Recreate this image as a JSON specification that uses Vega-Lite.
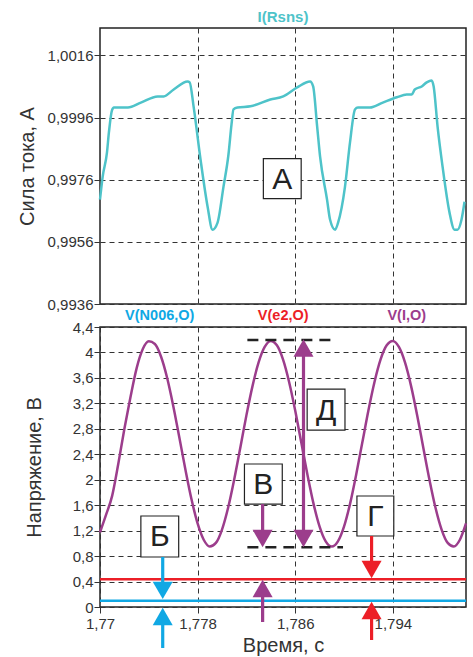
{
  "$schema": "https://vega.github.io/schema/vega-lite/v6.json",
  "padding": {"left": 16, "top": 9, "right": 5, "bottom": 5},
  "bounds": "flush",
  "spacing": 23,
  "config": {
    "font": "Liberation Sans",
    "view": {"stroke": "#222", "strokeWidth": 1.5},
    "axis": {
      "labelFont": "Liberation Sans", "labelFontSize": 15, "labelColor": "#333", "labelOverlap": false, "labelFlush": false,
      "titleFont": "Liberation Sans", "titleFontSize": 20, "titleFontWeight": "normal", "titleColor": "#333",
      "tickColor": "#333", "tickSize": 6, "gridColor": "#333", "gridDash": [5, 4], "gridOpacity": 1, "gridWidth": 1,
      "domain": false, "labelPadding": 1
    }
  },
  "datasets": {
    "current": [
      {"t": 1.77000, "i": 0.99696}, {"t": 1.77022, "i": 0.99770}, {"t": 1.77057, "i": 0.99847}, {"t": 1.77073, "i": 0.99912},
      {"t": 1.77098, "i": 0.99983}, {"t": 1.77114, "i": 0.99992}, {"t": 1.77229, "i": 0.99992}, {"t": 1.77335, "i": 1.00008},
      {"t": 1.77473, "i": 1.00028}, {"t": 1.77522, "i": 1.00028}, {"t": 1.77604, "i": 1.00050}, {"t": 1.77718, "i": 1.00076},
      {"t": 1.77735, "i": 1.00073}, {"t": 1.77767, "i": 0.99996}, {"t": 1.77824, "i": 0.99825}, {"t": 1.77882, "i": 0.99673},
      {"t": 1.77922, "i": 0.99599}, {"t": 1.77963, "i": 0.99621}, {"t": 1.78012, "i": 0.99737}, {"t": 1.78053, "i": 0.99841},
      {"t": 1.78078, "i": 0.99938}, {"t": 1.78094, "i": 0.99986}, {"t": 1.78127, "i": 0.99992}, {"t": 1.78233, "i": 0.99996},
      {"t": 1.78396, "i": 1.00018}, {"t": 1.78502, "i": 1.00028}, {"t": 1.78616, "i": 1.00057}, {"t": 1.78722, "i": 1.00076},
      {"t": 1.78747, "i": 1.00060}, {"t": 1.78780, "i": 0.99931}, {"t": 1.78804, "i": 0.99834}, {"t": 1.78861, "i": 0.99696},
      {"t": 1.78886, "i": 0.99631}, {"t": 1.78927, "i": 0.99599}, {"t": 1.78951, "i": 0.99621}, {"t": 1.79008, "i": 0.99737},
      {"t": 1.79049, "i": 0.99879}, {"t": 1.79090, "i": 0.99986}, {"t": 1.79114, "i": 0.99992}, {"t": 1.79212, "i": 0.99992},
      {"t": 1.79318, "i": 1.00008}, {"t": 1.79433, "i": 1.00025}, {"t": 1.79514, "i": 1.00034}, {"t": 1.79555, "i": 1.00034},
      {"t": 1.79580, "i": 1.00050}, {"t": 1.79637, "i": 1.00060}, {"t": 1.79678, "i": 1.00073}, {"t": 1.79718, "i": 1.00079},
      {"t": 1.79735, "i": 1.00060}, {"t": 1.79767, "i": 0.99931}, {"t": 1.79808, "i": 0.99802}, {"t": 1.79865, "i": 0.99654},
      {"t": 1.79906, "i": 0.99599}, {"t": 1.79930, "i": 0.99599}, {"t": 1.79963, "i": 0.99631}, {"t": 1.79988, "i": 0.99689}
    ],
    "voltage": [
      {"t": 1.7700, "v": 1.173}, {"t": 1.7705, "v": 1.45}, {"t": 1.7710, "v": 1.75}, {"t": 1.7715, "v": 2.25},
      {"t": 1.7720, "v": 2.80}, {"t": 1.7725, "v": 3.30}, {"t": 1.7730, "v": 3.75}, {"t": 1.7735, "v": 4.05},
      {"t": 1.7740, "v": 4.175}, {"t": 1.7745, "v": 4.133}, {"t": 1.7750, "v": 3.936}, {"t": 1.7755, "v": 3.602},
      {"t": 1.7760, "v": 3.164}, {"t": 1.7765, "v": 2.667}, {"t": 1.7770, "v": 2.161}, {"t": 1.7775, "v": 1.693},
      {"t": 1.7780, "v": 1.313}, {"t": 1.7785, "v": 1.057}, {"t": 1.7790, "v": 0.952}, {"t": 1.7795, "v": 1.007},
      {"t": 1.7800, "v": 1.216}, {"t": 1.7805, "v": 1.559}, {"t": 1.7810, "v": 2.005}, {"t": 1.7815, "v": 2.504},
      {"t": 1.7820, "v": 3.011}, {"t": 1.7825, "v": 3.471}, {"t": 1.7830, "v": 3.843}, {"t": 1.7835, "v": 4.086},
      {"t": 1.7840, "v": 4.180}, {"t": 1.7845, "v": 4.112}, {"t": 1.7850, "v": 3.891}, {"t": 1.7855, "v": 3.537},
      {"t": 1.7860, "v": 3.088}, {"t": 1.7865, "v": 2.584}, {"t": 1.7870, "v": 2.082}, {"t": 1.7875, "v": 1.625},
      {"t": 1.7880, "v": 1.263}, {"t": 1.7885, "v": 1.031}, {"t": 1.7890, "v": 0.950}, {"t": 1.7895, "v": 1.031},
      {"t": 1.7900, "v": 1.263}, {"t": 1.7905, "v": 1.625}, {"t": 1.7910, "v": 2.082}, {"t": 1.7915, "v": 2.584},
      {"t": 1.7920, "v": 3.088}, {"t": 1.7925, "v": 3.537}, {"t": 1.7930, "v": 3.891}, {"t": 1.7935, "v": 4.112},
      {"t": 1.7940, "v": 4.180}, {"t": 1.7945, "v": 4.086}, {"t": 1.7950, "v": 3.843}, {"t": 1.7955, "v": 3.471},
      {"t": 1.7960, "v": 3.011}, {"t": 1.7965, "v": 2.504}, {"t": 1.7970, "v": 2.005}, {"t": 1.7975, "v": 1.559},
      {"t": 1.7980, "v": 1.216}, {"t": 1.7985, "v": 1.007}, {"t": 1.7990, "v": 0.952}, {"t": 1.7995, "v": 1.057},
      {"t": 1.8000, "v": 1.313}
    ],
    "levels": [
      {"series": "e2", "v": 0.435},
      {"series": "N006", "v": 0.1}
    ],
    "seriesLabels": [
      {"series": "N006", "t": 1.7749, "text": "V(N006,O)"},
      {"series": "e2", "t": 1.78502, "text": "V(e2,O)"},
      {"series": "I", "t": 1.79514, "text": "V(I,O)"}
    ],
    "topBox": [
      {"t1": 1.78339, "t2": 1.78649, "i1": 0.99699, "i2": 0.99828, "tm": 1.78494, "im": 0.997635, "label": "А"}
    ],
    "boxes": [
      {"t1": 1.77335, "t2": 1.77645, "v1": 0.786, "v2": 1.43, "tm": 1.7749, "vm": 1.108, "label": "Б"},
      {"t1": 1.78184, "t2": 1.78494, "v1": 1.618, "v2": 2.247, "tm": 1.78339, "vm": 1.9325, "label": "В"},
      {"t1": 1.78698, "t2": 1.79008, "v1": 2.781, "v2": 3.425, "tm": 1.78853, "vm": 3.103, "label": "Д"},
      {"t1": 1.79106, "t2": 1.79408, "v1": 1.116, "v2": 1.744, "tm": 1.79257, "vm": 1.43, "label": "Г"}
    ],
    "dashes": [
      {"t1": 1.78208, "t2": 1.7891, "v": 4.196},
      {"t1": 1.78208, "t2": 1.78992, "v": 0.938}
    ],
    "shafts": [
      {"t": 1.77514, "v1": 0.786, "v2": 0.30, "series": "N006"},
      {"t": 1.77514, "v1": -0.644, "v2": -0.15, "series": "N006"},
      {"t": 1.78333, "v1": 1.618, "v2": 1.10, "series": "I"},
      {"t": 1.78333, "v1": -0.236, "v2": 0.27, "series": "I"},
      {"t": 1.78668, "v1": 4.05, "v2": 1.10, "series": "I"},
      {"t": 1.79226, "v1": 1.116, "v2": 0.62, "series": "e2"},
      {"t": 1.79226, "v1": -0.519, "v2": -0.06, "series": "e2"}
    ],
    "heads": [
      {"t": 1.77514, "v": 0.262, "series": "N006", "dir": "down"},
      {"t": 1.77514, "v": -0.149, "series": "N006", "dir": "up"},
      {"t": 1.78333, "v": 1.076, "series": "I", "dir": "down"},
      {"t": 1.78333, "v": 0.291, "series": "I", "dir": "up"},
      {"t": 1.78668, "v": 4.07, "series": "I", "dir": "up"},
      {"t": 1.78668, "v": 1.076, "series": "I", "dir": "down"},
      {"t": 1.79226, "v": 0.589, "series": "e2", "dir": "down"},
      {"t": 1.79226, "v": -0.055, "series": "e2", "dir": "up"}
    ]
  },
  "vconcat": [
    {
      "width": 366,
      "height": 276,
      "title": {"text": "I(Rsns)", "color": "#4ec3c9", "fontSize": 15, "fontWeight": "bold", "offset": 3, "font": "Liberation Sans"},
      "layer": [
        {
          "data": {"name": "current"},
          "mark": {"type": "line", "color": "#4ec3c9", "strokeWidth": 2.5, "interpolate": "monotone"},
          "encoding": {
            "x": {"field": "t", "type": "quantitative",
              "scale": {"domain": [1.77, 1.8], "nice": false, "zero": false},
              "axis": {"values": [1.778, 1.786, 1.794], "tickCount": 20, "labels": false, "ticks": false, "title": null, "grid": true}},
            "y": {"field": "i", "type": "quantitative",
              "scale": {"domain": [0.9936, 1.00248], "nice": false, "zero": false},
              "axis": {"values": [0.9936, 0.9956, 0.9976, 0.9996, 1.0016], "tickCount": 20, "title": "Сила тока, А", "titlePadding": 10,
                "labelFlush": false,
                "labelExpr": "replace(format(datum.value, '.4f'), '.', ',')", "grid": true}}
          }
        },
        {
          "data": {"name": "topBox"},
          "mark": {"type": "rect", "fill": "white", "stroke": "#222", "strokeWidth": 1.2},
          "encoding": {
            "x": {"field": "t1", "type": "quantitative"},
            "x2": {"field": "t2"},
            "y": {"field": "i1", "type": "quantitative"},
            "y2": {"field": "i2"}
          }
        },
        {
          "data": {"name": "topBox"},
          "mark": {"type": "text", "fontSize": 30, "color": "#222", "baseline": "middle", "align": "center", "dy": 1},
          "encoding": {
            "x": {"field": "tm", "type": "quantitative"},
            "y": {"field": "im", "type": "quantitative"},
            "text": {"field": "label"}
          }
        }
      ]
    },
    {
      "width": 366,
      "height": 280,
      "layer": [
        {
          "data": {"name": "voltage"},
          "mark": {"type": "line", "color": "#9c3d8c", "strokeWidth": 2.5, "interpolate": "monotone"},
          "encoding": {
            "x": {"field": "t", "type": "quantitative",
              "scale": {"domain": [1.77, 1.8], "nice": false, "zero": false},
              "axis": {"values": [1.77, 1.778, 1.786, 1.794], "tickCount": 20, "title": "Время, с", "titlePadding": 4, "labelPadding": 3,
                "labelFlush": false,
                "labelExpr": "replace(format(datum.value, '.4~f'), '.', ',')", "grid": true}},
            "y": {"field": "v", "type": "quantitative",
              "scale": {"domain": [0, 4.4], "nice": false, "zero": false},
              "axis": {"values": [0, 0.4, 0.8, 1.2, 1.6, 2, 2.4, 2.8, 3.2, 3.6, 4, 4.4], "tickCount": 20, "title": "Напряжение, В", "titlePadding": 28,
                "labelFlush": false,
                "labelExpr": "replace(format(datum.value, '.1~f'), '.', ',')", "grid": true}}
          }
        },
        {
          "data": {"name": "levels"},
          "mark": {"type": "rule", "strokeWidth": 2.5},
          "encoding": {
            "y": {"field": "v", "type": "quantitative"},
            "color": {"field": "series", "type": "nominal", "legend": null,
              "scale": {"domain": ["N006", "e2", "I", "mark"], "range": ["#10a8e4", "#ec1f27", "#9c3d8c", "#222222"]}}
          }
        },
        {
          "data": {"name": "dashes"},
          "mark": {"type": "rule", "strokeWidth": 2.5, "strokeDash": [11, 7], "color": "#222"},
          "encoding": {
            "x": {"field": "t1", "type": "quantitative"},
            "x2": {"field": "t2"},
            "y": {"field": "v", "type": "quantitative"}
          }
        },
        {
          "data": {"name": "boxes"},
          "mark": {"type": "rect", "fill": "white", "stroke": "#222", "strokeWidth": 1.2},
          "encoding": {
            "x": {"field": "t1", "type": "quantitative"},
            "x2": {"field": "t2"},
            "y": {"field": "v1", "type": "quantitative"},
            "y2": {"field": "v2"}
          }
        },
        {
          "data": {"name": "boxes"},
          "mark": {"type": "text", "fontSize": 30, "color": "#222", "baseline": "middle", "align": "center", "dy": 1},
          "encoding": {
            "x": {"field": "tm", "type": "quantitative"},
            "y": {"field": "vm", "type": "quantitative"},
            "text": {"field": "label"}
          }
        },
        {
          "data": {"name": "shafts"},
          "mark": {"type": "rule", "strokeWidth": 3.2},
          "encoding": {
            "x": {"field": "t", "type": "quantitative"},
            "y": {"field": "v1", "type": "quantitative"},
            "y2": {"field": "v2"},
            "color": {"field": "series", "type": "nominal", "legend": null}
          }
        },
        {
          "data": {"name": "heads"},
          "mark": {"type": "point", "filled": true, "opacity": 1, "size": 400, "strokeWidth": 0},
          "encoding": {
            "x": {"field": "t", "type": "quantitative"},
            "y": {"field": "v", "type": "quantitative"},
            "shape": {"field": "dir", "type": "nominal", "legend": null,
              "scale": {"domain": ["down", "up"], "range": ["triangle-down", "triangle-up"]}},
            "color": {"field": "series", "type": "nominal", "legend": null}
          }
        },
        {
          "data": {"name": "seriesLabels"},
          "mark": {"type": "text", "fontSize": 14.5, "fontWeight": "bold", "baseline": "middle", "align": "center", "dy": -11},
          "encoding": {
            "x": {"field": "t", "type": "quantitative"},
            "y": {"datum": 4.4},
            "text": {"field": "text"},
            "color": {"field": "series", "type": "nominal", "legend": null}
          }
        }
      ]
    }
  ]
}
